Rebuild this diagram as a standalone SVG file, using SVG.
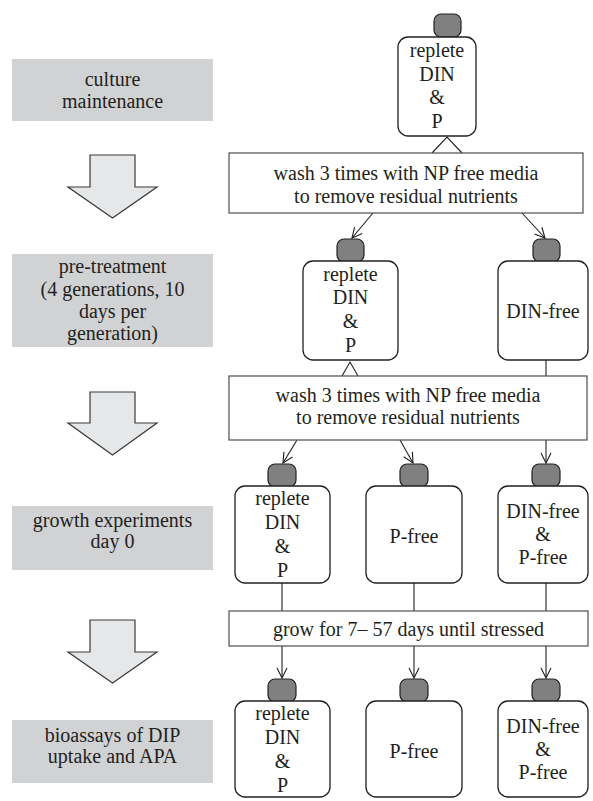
<svg xmlns="http://www.w3.org/2000/svg" width="593" height="801" viewBox="0 0 593 801">
  <defs>
    <style>
      text { font-family: "Liberation Serif", Tinos, "Times New Roman", Times, "Nimbus Roman", "Noto Serif", "DejaVu Serif", FreeSerif, Georgia, serif; font-size: 20px; fill: #231f20; text-anchor: middle; }
      .stage { fill: #d1d2d4; stroke: none; }
      .step { fill: #e6e7e8; stroke: #3a3a3a; stroke-width: 1.2; }
      .box { fill: #ffffff; stroke: #231f20; stroke-width: 1.3; }
      .knob { fill: #808080; stroke: #231f20; stroke-width: 1.2; }
      .proc { fill: #ffffff; stroke: #4d4d4d; stroke-width: 1.2; }
      .link { fill: none; stroke: #231f20; stroke-width: 1.1; }
    </style>
    <marker id="vee" viewBox="0 0 12 12" refX="11" refY="6" markerWidth="12" markerHeight="12" markerUnits="userSpaceOnUse" orient="auto">
      <path d="M1,1 L11,6 L1,11" fill="none" stroke="#231f20" stroke-width="1.1"/>
    </marker>
  </defs>

  <!-- stage labels on the left -->
  <g id="stage-culture">
    <rect class="stage" x="12" y="59" width="201" height="62"/>
    <text x="112.5" y="86">culture</text>
    <text x="112.5" y="108">maintenance</text>
  </g>
  <g id="step-1">
    <polygon class="step" points="90,155 135,155 135,187 157,187 112.5,218 68,187 90,187"/>
  </g>
  <g id="stage-pretreatment">
    <rect class="stage" x="12" y="254" width="201" height="93"/>
    <text x="112.5" y="273">pre-treatment</text>
    <text x="112.5" y="296">(4 generations, 10</text>
    <text x="112.5" y="318">days per</text>
    <text x="112.5" y="340">generation)</text>
  </g>
  <g id="step-2">
    <polygon class="step" points="90,392 135,392 135,423 157,423 112.5,455 68,423 90,423"/>
  </g>
  <g id="stage-growth">
    <rect class="stage" x="12" y="506" width="201" height="64"/>
    <text x="112.5" y="527">growth experiments</text>
    <text x="112.5" y="548">day 0</text>
  </g>
  <g id="step-3">
    <polygon class="step" points="90,620 135,620 135,652 157,652 112.5,683 68,652 90,652"/>
  </g>
  <g id="stage-bioassay">
    <rect class="stage" x="12" y="720" width="201" height="63"/>
    <text x="112.5" y="742">bioassays of DIP</text>
    <text x="112.5" y="763">uptake and APA</text>
  </g>

  <!-- connectors -->
  <g id="connectors">
    <polyline class="link" points="432,153 447,137 462,153"/>
    <line class="link" x1="373" y1="213" x2="352" y2="238" marker-end="url(#vee)"/>
    <line class="link" x1="522" y1="213" x2="545" y2="238" marker-end="url(#vee)"/>
    <polyline class="link" points="342,376 350,362 358,376"/>
    <line class="link" x1="546" y1="360" x2="546" y2="376"/>
    <line class="link" x1="297" y1="440" x2="283" y2="463" marker-end="url(#vee)"/>
    <line class="link" x1="400" y1="440" x2="413" y2="463" marker-end="url(#vee)"/>
    <line class="link" x1="546" y1="440" x2="546" y2="463" marker-end="url(#vee)"/>
    <line class="link" x1="282" y1="583" x2="282" y2="611"/>
    <line class="link" x1="414" y1="583" x2="414" y2="611"/>
    <line class="link" x1="546" y1="583" x2="546" y2="611"/>
    <line class="link" x1="282" y1="646" x2="282" y2="678" marker-end="url(#vee)"/>
    <line class="link" x1="414" y1="646" x2="414" y2="678" marker-end="url(#vee)"/>
    <line class="link" x1="546" y1="646" x2="546" y2="678" marker-end="url(#vee)"/>
  </g>

  <!-- culture flask -->
  <g id="culture-replete">
    <rect class="knob" x="434" y="14" width="27" height="23" rx="7"/>
    <rect class="box" x="398" y="37" width="78" height="99" rx="10"/>
    <text x="437" y="57">replete</text>
    <text x="437" y="81">DIN</text>
    <text x="437" y="104">&amp;</text>
    <text x="437" y="128">P</text>
  </g>

  <g id="wash-1">
    <rect class="proc" x="229" y="153" width="354" height="60"/>
    <text x="406" y="180">wash 3 times with NP free media</text>
    <text x="406" y="203">to remove residual nutrients</text>
  </g>

  <!-- pre-treatment flasks -->
  <g id="pre-replete">
    <rect class="knob" x="337" y="239" width="27" height="23" rx="7"/>
    <rect class="box" x="303" y="261" width="95" height="99" rx="10"/>
    <text x="350.5" y="281">replete</text>
    <text x="350.5" y="304">DIN</text>
    <text x="350.5" y="328">&amp;</text>
    <text x="350.5" y="352">P</text>
  </g>
  <g id="pre-din-free">
    <rect class="knob" x="533" y="239" width="27" height="23" rx="7"/>
    <rect class="box" x="498" y="261" width="90" height="99" rx="10"/>
    <text x="543" y="318">DIN-free</text>
  </g>

  <g id="wash-2">
    <rect class="proc" x="229" y="376" width="358" height="64"/>
    <text x="408" y="402">wash 3 times with NP free media</text>
    <text x="408" y="424">to remove residual nutrients</text>
  </g>

  <!-- growth experiment flasks, day 0 -->
  <g id="growth-replete">
    <rect class="knob" x="268" y="464" width="28" height="23" rx="7"/>
    <rect class="box" x="235" y="486" width="95" height="97" rx="10"/>
    <text x="282.5" y="505">replete</text>
    <text x="282.5" y="529">DIN</text>
    <text x="282.5" y="553">&amp;</text>
    <text x="282.5" y="577">P</text>
  </g>
  <g id="growth-p-free">
    <rect class="knob" x="400" y="464" width="28" height="23" rx="7"/>
    <rect class="box" x="366" y="486" width="96" height="97" rx="10"/>
    <text x="414" y="543">P-free</text>
  </g>
  <g id="growth-din-p-free">
    <rect class="knob" x="532" y="464" width="28" height="23" rx="7"/>
    <rect class="box" x="498" y="486" width="90" height="97" rx="10"/>
    <text x="543" y="518">DIN-free</text>
    <text x="543" y="541">&amp;</text>
    <text x="543" y="564">P-free</text>
  </g>

  <g id="grow">
    <rect class="proc" x="229" y="611" width="359" height="35"/>
    <text x="408.5" y="636">grow for 7– 57 days until stressed</text>
  </g>

  <!-- bioassay flasks -->
  <g id="assay-replete">
    <rect class="knob" x="268" y="679" width="28" height="23" rx="7"/>
    <rect class="box" x="235" y="701" width="95" height="96" rx="10"/>
    <text x="282.5" y="720">replete</text>
    <text x="282.5" y="744">DIN</text>
    <text x="282.5" y="768">&amp;</text>
    <text x="282.5" y="792">P</text>
  </g>
  <g id="assay-p-free">
    <rect class="knob" x="400" y="679" width="28" height="23" rx="7"/>
    <rect class="box" x="366" y="701" width="96" height="96" rx="10"/>
    <text x="414" y="758">P-free</text>
  </g>
  <g id="assay-din-p-free">
    <rect class="knob" x="532" y="679" width="28" height="23" rx="7"/>
    <rect class="box" x="498" y="701" width="90" height="96" rx="10"/>
    <text x="543" y="733">DIN-free</text>
    <text x="543" y="756">&amp;</text>
    <text x="543" y="779">P-free</text>
  </g>
</svg>
